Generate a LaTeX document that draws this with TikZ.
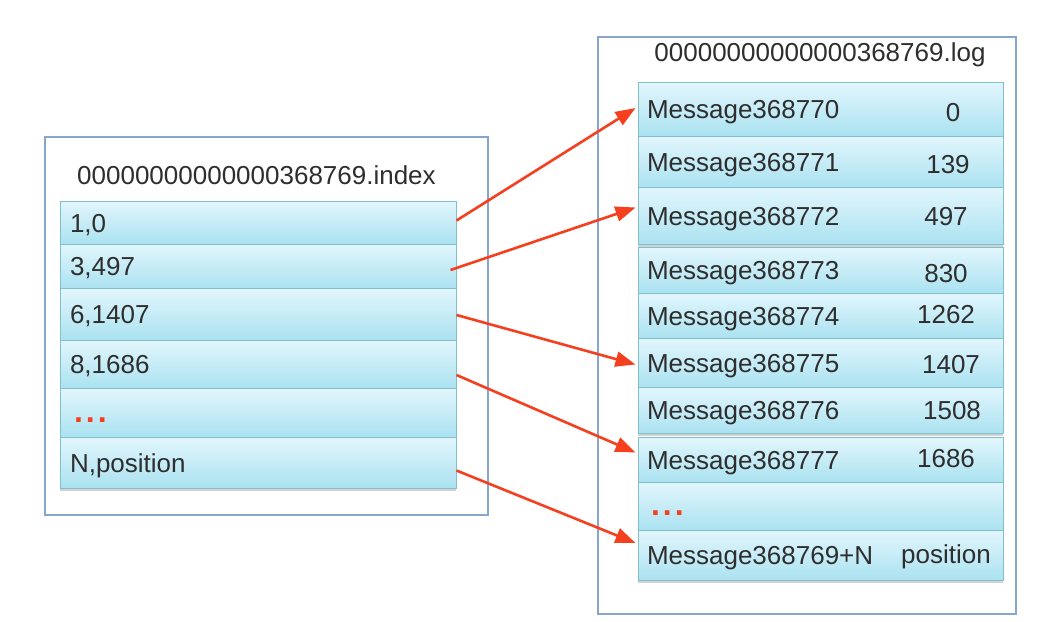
\documentclass[tikz,border=0pt]{standalone}
\usepackage{fontspec}
\setmainfont{Liberation Sans}
\usetikzlibrary{arrows.meta,calc,shadows}
\definecolor{rowtop}{HTML}{E2F6FC}
\definecolor{rowbot}{HTML}{ABE2F1}
\definecolor{rowline}{HTML}{80BFCB}
\definecolor{framecol}{HTML}{86A6CE}
\definecolor{linkred}{HTML}{F4401F}
\definecolor{textgray}{HTML}{2E2E2E}

\begin{document}
\begin{tikzpicture}[x=1pt, y=-1pt,
  every node/.style={font=\fontsize{26}{30}\selectfont, text=textgray},
  file/.style={draw=framecol, line width=1.6pt, fill=white, inner sep=0pt},
  idx/.style={draw=rowline, line width=1pt, top color=rowtop, bottom color=rowbot,
    text width=376pt, inner xsep=10pt, inner ysep=0pt, align=left,
    text height=19pt, text depth=0pt,
    drop shadow={opacity=0.35, shadow xshift=0pt, shadow yshift=-2.5pt}},
  msg/.style={idx, text width=347pt, inner xsep=9pt},
  val/.style={inner sep=0pt, text height=19pt, text depth=0pt},
  link/.style={draw=linkred, line width=2.6pt, -{Triangle[length=20pt,width=15pt]}}
]
  \useasboundingbox[fill=white] (0,0) rectangle (1059,621);

  % index file
  \node[file, minimum width=443pt, minimum height=378pt] (indexfile) at (266.5,326) {};
  \node (indextitle) at (256.5,175) {00000000000000368769.index};
  \node[idx, minimum height=43pt] (i1) at (258,222.5) {1,0};
  \node[idx, minimum height=44pt] (i3) at (258,266) {3,497};
  \node[idx, minimum height=52pt] (i6) at (258,314) {6,1407};
  \node[idx, minimum height=48pt] (i8) at (258,364) {8,1686};
  \node[idx, minimum height=49pt] (idots) at (258,412.5) {\hspace{4pt}\textcolor{linkred}{\fontsize{32}{30}\selectfont\textbf{.\kern3pt.\kern3pt.}}};
  \node[idx, minimum height=51pt] (iN) at (258,462.5) {N,position};

  % log file
  \node[file, minimum width=418pt, minimum height=577pt] (logfile) at (807,325.5) {};
  \node (logtitle) at (820,55) {00000000000000368769.log};
  \node[msg, minimum height=54pt] (m770) at (820.5,109) {Message368770};
  \node[msg, minimum height=51pt] (m771) at (820.5,161.5) {Message368771};
  \node[msg, minimum height=57pt] (m772) at (820.5,215.5) {Message368772};
  \node[msg, minimum height=46pt] (m773) at (820.5,270) {Message368773};
  \node[msg, minimum height=45pt] (m774) at (820.5,315.5) {Message368774};
  \node[msg, minimum height=49pt] (m775) at (820.5,362.5) {Message368775};
  \node[msg, minimum height=46pt] (m776) at (820.5,410) {Message368776};
  \node[msg, minimum height=45pt] (m777) at (820.5,459.5) {Message368777};
  \node[msg, minimum height=48pt] (mdots) at (820.5,506) {\hspace{4pt}\textcolor{linkred}{\fontsize{32}{30}\selectfont\textbf{.\kern3pt.\kern3pt.}}};
  \node[msg, minimum height=50pt] (mN) at (820.5,555) {Message368769+N};

  % offsets
  \node[val] (v770) at (953,112) {0};
  \node[val] (v771) at (948,164) {139};
  \node[val] (v772) at (946,216) {497};
  \node[val] (v773) at (946,273) {830};
  \node[val] (v774) at (946,314) {1262};
  \node[val] (v775) at (951,364) {1407};
  \node[val] (v776) at (952,410) {1508};
  \node[val] (v777) at (946,458) {1686};
  \node[val] (vN) at (946,554) {position};

  \draw[link] ($(i1.east)+(0,-2)$) -- ($(m770.west)+(-2,-1)$);
  \draw[link] ($(i3.east)+(-6,4)$) -- ($(m772.west)+(-2,-8)$);
  \draw[link] ($(i6.east)+(0,1)$) -- ($(m775.west)+(-2,2)$);
  \draw[link] ($(i8.east)+(0,11)$) -- ($(m777.west)+(-2,-7)$);
  \draw[link] ($(iN.east)+(0,8)$) -- ($(mN.west)+(-2,-12)$);
\end{tikzpicture}
\end{document}
